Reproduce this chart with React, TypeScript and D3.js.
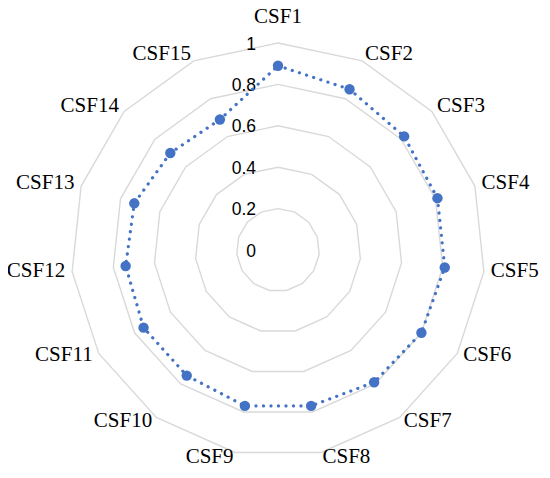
import { useEffect, useRef } from "react";
import * as d3 from "d3";

const categories = [
  "CSF1", "CSF2", "CSF3", "CSF4", "CSF5", "CSF6", "CSF7", "CSF8",
  "CSF9", "CSF10", "CSF11", "CSF12", "CSF13", "CSF14", "CSF15",
];
const values = [
  0.89, 0.85, 0.82, 0.81, 0.81, 0.8, 0.79, 0.77,
  0.77, 0.75, 0.75, 0.74, 0.73, 0.7, 0.69,
];
const ticks = [0, 0.2, 0.4, 0.6, 0.8, 1];
const tickLabels = ["0", "0.2", "0.4", "0.6", "0.8", "1"];

export default function App() {
  const svgRef = useRef<SVGSVGElement>(null);

  useEffect(() => {
    const width = 550;
    const height = 478;
    const cx = 278;
    const cy = 250;
    const R = 207;

    const svg = d3.select(svgRef.current);
    svg.selectAll("*").remove();
    svg.attr("width", width).attr("height", height);

    const r = d3.scaleLinear().domain([0, 1]).range([0, R]);
    const angle = d3
      .scaleLinear()
      .domain([0, categories.length])
      .range([0, 2 * Math.PI]);

    const g = svg.append("g").attr("transform", `translate(${cx},${cy})`);

    // grid polygons
    const ring = d3
      .lineRadial<number>()
      .angle((_, i) => angle(i))
      .radius((d) => r(d))
      .curve(d3.curveLinearClosed);

    g.selectAll(".grid")
      .data(ticks.slice(1))
      .join("path")
      .attr("class", "grid")
      .attr("d", (t) => ring(categories.map(() => t)))
      .attr("fill", "none")
      .attr("stroke", "#d9d9d9")
      .attr("stroke-width", 1.4);

    // tick labels
    g.selectAll(".tick")
      .data(ticks)
      .join("text")
      .attr("class", "tick")
      .attr("x", -22)
      .attr("y", (t) => -r(t) + 2)
      .attr("text-anchor", "end")
      .attr("dominant-baseline", "middle")
      .attr("font-family", "'Liberation Sans', Arial, sans-serif")
      .attr("font-size", 17.5)
      .attr("fill", "#000")
      .text((_, i) => tickLabels[i]);

    // data line
    g.append("path")
      .attr("d", ring(values))
      .attr("fill", "none")
      .attr("stroke", "#4472c4")
      .attr("stroke-width", 3.2)
      .attr("stroke-linecap", "round")
      .attr("stroke-dasharray", "0.1 7.4");

    g.selectAll(".pt")
      .data(values)
      .join("circle")
      .attr("class", "pt")
      .attr("cx", (d, i) => r(d) * Math.sin(angle(i)))
      .attr("cy", (d, i) => -r(d) * Math.cos(angle(i)))
      .attr("r", 5.2)
      .attr("fill", "#4472c4");

    // category labels
    g.selectAll(".cat")
      .data(categories)
      .join("text")
      .attr("class", "cat")
      .each(function (d, i) {
        const a = angle(i);
        const s = Math.sin(a);
        const c = Math.cos(a);
        const vx = R * s;
        const vy = -R * c;
        const el = d3.select(this);
        if (Math.abs(s) < 0.1) {
          el.attr("x", vx)
            .attr("y", vy - Math.sign(c) * 25)
            .attr("text-anchor", "middle");
        } else {
          el.attr("x", vx + 7 * s)
            .attr("y", vy - c * 6)
            .attr("text-anchor", s > 0 ? "start" : "end");
        }
      })
      .attr("dominant-baseline", "middle")
      .attr("font-family", "'Liberation Serif', 'Times New Roman', serif")
      .attr("font-size", 21)
      .attr("fill", "#000")
      .text((d) => d);
  }, []);

  return (
    <div style={{ margin: -8 }}>
      <svg ref={svgRef} style={{ display: "block" }} />
    </div>
  );
}
